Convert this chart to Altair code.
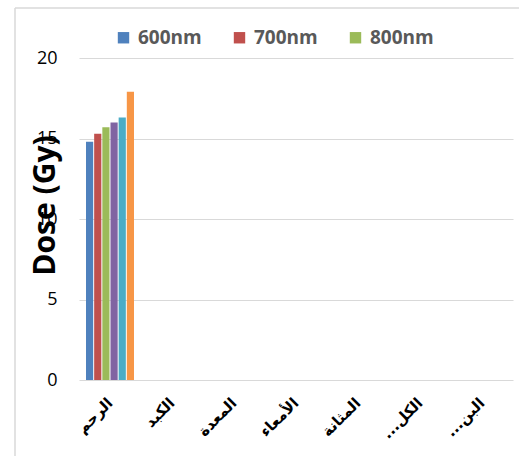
import altair as alt
import pandas as pd

RLM = "\u200f"
categories = ["الرحم", "الكبد", "المعدة", "الأمعاء", "المثانة", "الكل..." + RLM, "البن..." + RLM]
series = ["600nm", "700nm", "800nm", "900nm", "1000nm", "1100nm"]
uterus_values = [14.8, 15.3, 15.7, 16.0, 16.3, 17.9]
colors = ["#4F81BD", "#C0504D", "#9BBB59", "#8064A2", "#4BACC6", "#F79646"]
y_ticks = [0, 5, 10, 15, 20]

df = pd.DataFrame({
    "organ": [categories[0]] * len(series),
    "series": series,
    "dose": uterus_values,
})

bars = alt.Chart(df).mark_bar().encode(
    x=alt.X("organ:N", sort=categories,
            scale=alt.Scale(domain=categories, paddingInner=0.226, paddingOuter=0.113),
            axis=alt.Axis(title=None, labelAngle=-45, labelAlign="right",
                          labelBaseline="middle", labelFont="DejaVu Sans",
                          labelFontWeight="bold", labelFontSize=15, labelColor="black",
                          labelPadding=20, ticks=False, domain=False, grid=False)),
    xOffset=alt.XOffset("series:N", sort=series,
                        scale=alt.Scale(domain=series, paddingInner=0.12, paddingOuter=0)),
    y=alt.Y("dose:Q", scale=alt.Scale(domain=[0, 20]),
            axis=alt.Axis(title="Dose (Gy)", values=y_ticks, titleFont="Open Sans",
                          titleFontSize=30, titleFontWeight="bold", titleColor="black",
                          titleAngle=-90, titleX=-34, titleY=147, titleAlign="center",
                          titleBaseline="middle",
                          labelFont="Open Sans", labelFontSize=18, labelColor="black",
                          labelPadding=22, ticks=False, domain=False,
                          gridColor="#d9d9d9", gridWidth=1.2)),
    color=alt.Color("series:N", sort=series,
                    scale=alt.Scale(domain=series, range=colors),
                    legend=alt.Legend(title=None, values=series[:3], orient="none",
                                      direction="horizontal", columns=3,
                                      legendX=35, legendY=-30,
                                      symbolType="square", symbolSize=130,
                                      symbolStrokeWidth=0,
                                      labelFont="Open Sans", labelFontSize=19,
                                      labelFontWeight="bold", labelColor="#595959",
                                      labelOffset=5, columnPadding=28)),
)

frame_df = pd.DataFrame({"k": [0]})
left_line = alt.Chart(frame_df).mark_rule(color="#d9d9d9", strokeWidth=1.5).encode(
    x=alt.value(-64), y=alt.value(-50), y2=alt.value(400))
top_line = alt.Chart(frame_df).mark_rule(color="#d9d9d9", strokeWidth=1.5).encode(
    x=alt.value(-64), x2=alt.value(445), y=alt.value(-50))

chart = alt.layer(bars, left_line, top_line).properties(
    width=434, height=322,
    background="white",
    autosize=alt.AutoSizeParams(type="none"),
    padding={"left": 79, "top": 58, "right": 6, "bottom": 76},
).configure_view(stroke=None)

chart.save("out.html", embed_options={"renderer": "svg", "actions": False})
